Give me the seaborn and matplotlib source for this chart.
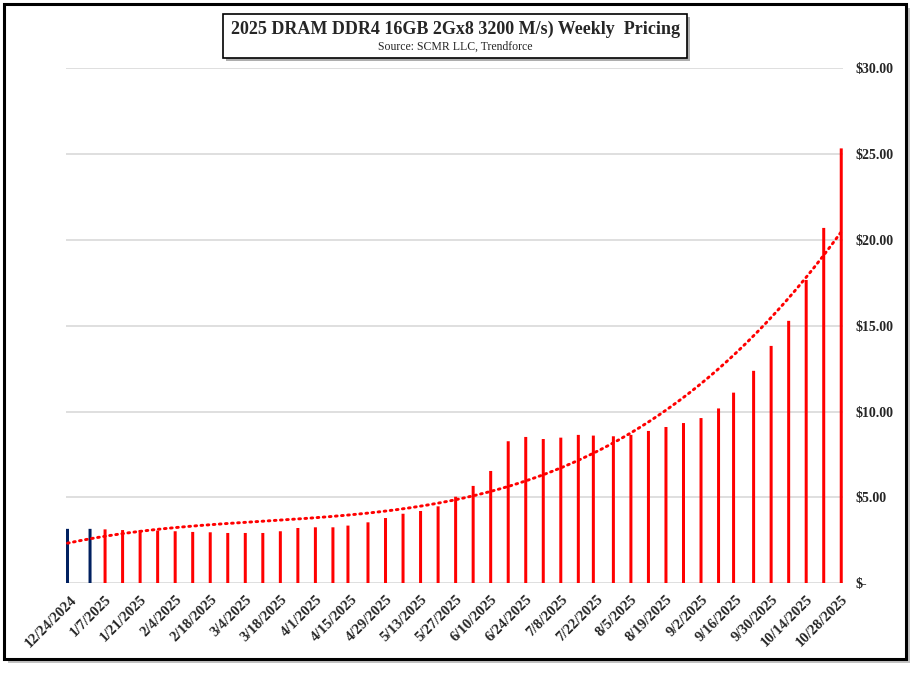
import numpy as np
import pandas as pd
import matplotlib
matplotlib.use("Agg")
import matplotlib.pyplot as plt
import matplotlib.dates as mdates
import seaborn as sns
from matplotlib.patches import Rectangle


week_dates = [
    "2024-12-23", "2025-01-01",
    "2025-01-07", "2025-01-14", "2025-01-21", "2025-01-28",
    "2025-02-04", "2025-02-11", "2025-02-18", "2025-02-25",
    "2025-03-04", "2025-03-11", "2025-03-18", "2025-03-25",
    "2025-04-01", "2025-04-08", "2025-04-14", "2025-04-22", "2025-04-29",
    "2025-05-06", "2025-05-13", "2025-05-20", "2025-05-27",
    "2025-06-03", "2025-06-10", "2025-06-17", "2025-06-24",
    "2025-07-01", "2025-07-08", "2025-07-15", "2025-07-21", "2025-07-29",
    "2025-08-05", "2025-08-12", "2025-08-19", "2025-08-26",
    "2025-09-02", "2025-09-09", "2025-09-15", "2025-09-23", "2025-09-30",
    "2025-10-07", "2025-10-14", "2025-10-21", "2025-10-28",
]
prices = [
    3.17, 3.17,
    3.14, 3.10, 3.10, 3.07,
    3.03, 2.99, 2.97, 2.93,
    2.93, 2.93, 3.03, 3.22,
    3.26, 3.26, 3.36, 3.55, 3.80,
    4.05, 4.21, 4.48, 5.04,
    5.67, 6.54, 8.27, 8.52,
    8.40, 8.48, 8.64, 8.60, 8.56,
    8.64, 8.87, 9.10, 9.33,
    9.62, 10.18, 11.10, 12.37, 13.82,
    15.28, 17.66, 20.69, 25.32,
]
groups = ["prior"] * 2 + ["2025"] * 43

tick_dates = [
    "2024-12-24", "2025-01-07", "2025-01-21", "2025-02-04", "2025-02-18",
    "2025-03-04", "2025-03-18", "2025-04-01", "2025-04-15", "2025-04-29",
    "2025-05-13", "2025-05-27", "2025-06-10", "2025-06-24", "2025-07-08",
    "2025-07-22", "2025-08-05", "2025-08-19", "2025-09-02", "2025-09-16",
    "2025-09-30", "2025-10-14", "2025-10-28",
]
tick_labels = [
    "12/24/2024", "1/7/2025", "1/21/2025", "2/4/2025", "2/18/2025",
    "3/4/2025", "3/18/2025", "4/1/2025", "4/15/2025", "4/29/2025",
    "5/13/2025", "5/27/2025", "6/10/2025", "6/24/2025", "7/8/2025",
    "7/22/2025", "8/5/2025", "8/19/2025", "9/2/2025", "9/16/2025",
    "9/30/2025", "10/14/2025", "10/28/2025",
]
y_ticks = [0, 5, 10, 15, 20, 25, 30]
y_labels = ["$-", "$5.00", "$10.00", "$15.00", "$20.00", "$25.00", "$30.00"]

title = "2025 DRAM DDR4 16GB 2Gx8 3200 M/s) Weekly  Pricing"
subtitle = "Source: SCMR LLC, Trendforce"

sns.set_style("white")
plt.rcParams["font.family"] = ["Liberation Serif", "DejaVu Serif"]

df = pd.DataFrame({
    "day": mdates.date2num(pd.to_datetime(week_dates)),
    "price": prices,
    "group": groups,
})

W, H = 921, 675
fig = plt.figure(figsize=(W / 100, H / 100), dpi=100)
ax = fig.add_axes([66 / W, 1 - 583.3 / H, (843 - 66) / W, (583.3 - 68) / H])

sns.barplot(data=df, x="day", y="price", hue="group",
            palette={"prior": "#002060", "2025": "#FF0000"},
            native_scale=True, width=0.2, dodge=False, saturation=1,
            linewidth=0, legend=False, ax=ax)
for p in ax.patches:
    p.set_snap(False)

# polynomial (order 3) trendline, excel style
x0 = df["day"].iloc[0]
coef = np.polyfit(df["day"] - x0, df["price"], 3)
xs = np.linspace(df["day"].min(), df["day"].max(), 400)
ax.plot(xs, np.polyval(coef, xs - x0), color="#FF0000", lw=2.1,
        ls=(0, (0.6, 1.5)), dash_capstyle="round")

ax.set_xlim(df["day"].min() - 0.6, df["day"].max() + 0.7)
ax.set_ylim(0, 30)
ax.set_xticks(mdates.date2num(pd.to_datetime(tick_dates)))
ax.set_xticklabels(tick_labels, rotation=45, ha="right", rotation_mode="anchor",
                   fontweight="bold", fontsize=10.5)
ax.yaxis.tick_right()
ax.set_yticks(y_ticks)
ax.set_yticklabels(y_labels, fontweight="bold", fontsize=10)
ax.tick_params(axis="x", length=0, pad=7)
ax.tick_params(axis="y", length=0, pad=9)
ax.grid(axis="y", color="#D9D9D9", lw=1.2)
ax.set_axisbelow(True)
for s in ax.spines.values():
    s.set_visible(False)
ax.set_xlabel("")
ax.set_ylabel("")

# outer frame with shadow
def px_rect(x, y, w, h, **kw):
    return Rectangle((x / W, 1 - (y + h) / H), w / W, h / H,
                     transform=fig.transFigure, **kw)

fig.add_artist(px_rect(8, 8, 902, 655, fc="#9A9A9A", ec="none", alpha=0.6, zorder=0))
fig.add_artist(px_rect(4, 4, 902, 655, fc="white", ec="black", lw=2.2, zorder=1))

# title box
fig.add_artist(px_rect(226, 17, 464, 44, fc="#8C8C8C", ec="none", alpha=0.7, zorder=2))
fig.add_artist(px_rect(223, 14, 464, 44, fc="white", ec="black", lw=1.2, zorder=3))
fig.text(455 / W, 1 - 29 / H, title, ha="center", va="center",
         fontsize=13, fontweight="bold", zorder=4)
fig.text(455 / W, 1 - 47 / H, subtitle, ha="center", va="center",
         fontsize=8.5, zorder=4)
ax.set_zorder(2)
ax.patch.set_alpha(0)

fig.savefig("out.png", dpi=100)
